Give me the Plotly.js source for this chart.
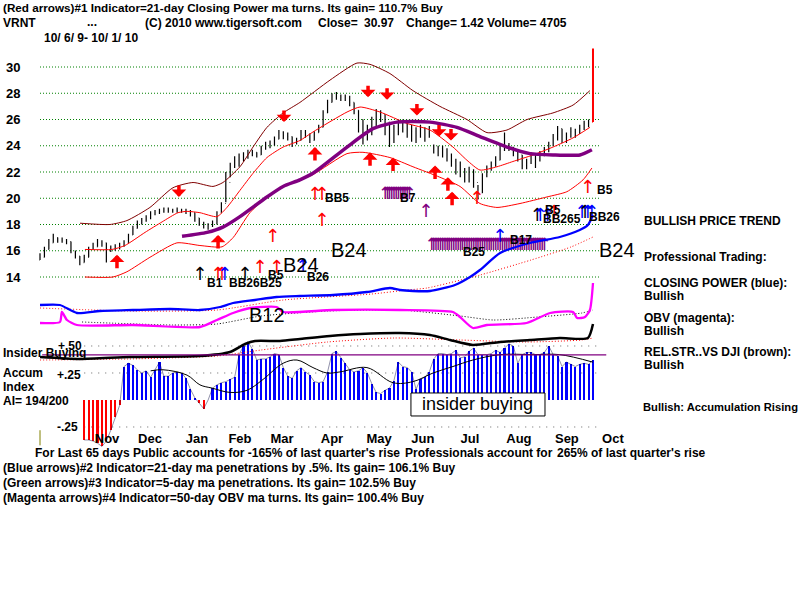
<!DOCTYPE html>
<html><head><meta charset="utf-8">
<script src="https://cdn.plot.ly/plotly-3.0.1.min.js"></script>
<style>body{margin:0;background:#fff}#c{width:800px;height:600px}</style>
</head><body><div id="c"></div>
<script>
// ---------- DATA ----------
const months = ['Nov','Dec','Jan','Feb','Mar','Apr','May','Jun','Jul','Aug','Sep','Oct'];
const monthIdx = [30.3,49.7,71,90.4,109.4,132,153.3,173.1,194.4,216.5,238.2,259];
const priceTicks = [14,16,18,20,22,24,26,28,30];

// price bars (one bar per 2 trading days, index = trading day)
const closeP = [15.5,16.1,16.6,17.0,16.8,16.8,16.7,16.0,15.6,15.1,15.5,16.2,16.3,16.6,16.6,16.1,16.2,16.2,16.4,16.6,
17.2,17.7,18.1,18.3,18.5,18.8,18.9,19.0,19.2,19.1,19.1,19.1,19.1,19.0,18.9,18.5,18.1,18.0,17.9,18.1,
18.9,19.6,21.2,22.4,22.9,23.1,23.2,23.5,23.5,23.3,23.8,24.1,24.1,24.5,25.0,24.8,24.7,24.4,24.4,25.0,
24.9,24.4,25.0,25.4,26.5,27.3,27.7,27.8,27.7,27.7,27.3,26.7,26.0,25.2,25.0,25.6,26.5,26.4,25.8,24.6,
25.1,25.7,25.6,25.2,25.1,24.8,25.2,24.9,25.2,23.9,23.8,23.7,23.3,22.8,22.5,22.2,21.8,22.0,21.2,20.4,
21.7,22.3,22.5,22.9,23.7,24.0,23.9,23.5,23.3,22.5,22.7,23.3,22.9,23.3,23.6,24.0,24.6,25.3,24.6,24.7,
25.1,25.0,25.3,25.7,25.8,30.97];
const highP = [15.8,16.3,16.9,17.3,17.0,17.0,16.9,16.7,16.0,15.6,15.7,16.3,16.6,16.9,16.8,16.6,16.4,16.5,16.6,16.8,
17.3,17.9,18.3,18.5,18.7,19.0,19.1,19.2,19.3,19.3,19.2,19.3,19.2,19.2,19.1,18.9,18.5,18.2,18.1,18.3,
19.0,19.7,22.0,22.7,23.2,23.4,23.5,23.7,23.7,23.5,24.0,24.3,24.4,24.7,25.2,25.1,25.0,24.7,24.6,25.2,
25.2,24.9,25.1,25.6,26.7,27.5,28.0,28.1,27.9,27.9,27.8,27.3,26.7,26.0,25.6,26.2,26.8,26.7,26.4,25.8,
25.6,26.0,26.0,25.8,25.6,25.4,25.6,25.4,25.5,24.1,24.0,24.0,23.8,23.4,23.0,22.8,22.3,22.4,22.2,21.0,
21.9,22.5,22.8,23.2,24.0,25.0,24.2,23.9,23.6,23.3,23.0,23.5,23.4,23.6,23.9,24.3,24.9,25.5,25.3,25.0,
25.4,25.3,25.6,25.9,26.0,31.4];
const lowP = [15.3,15.5,16.1,16.6,16.6,16.6,16.5,15.8,15.4,14.9,15.1,15.5,16.1,16.3,16.3,15.1,15.9,16.0,16.1,16.3,
16.6,17.2,17.7,18.0,18.2,18.4,18.7,18.8,18.9,18.9,18.9,18.9,18.9,18.8,18.6,18.2,17.9,17.7,17.6,17.8,
18.0,18.9,19.7,21.6,22.3,22.4,22.8,23.0,23.2,23.1,23.3,23.7,23.8,24.0,24.5,24.5,24.4,23.9,24.1,24.4,
24.6,24.2,24.4,25.0,25.4,26.5,27.3,27.5,27.4,27.4,27.0,26.4,25.0,24.1,24.4,24.8,25.4,25.8,24.8,23.9,
24.2,24.8,25.0,24.6,24.3,24.2,24.6,24.3,24.6,23.4,23.2,23.1,22.8,22.4,21.8,21.6,21.2,21.2,20.8,19.9,
20.4,21.6,22.1,22.4,22.9,23.6,23.6,23.2,22.8,22.2,22.2,22.6,22.3,22.8,23.2,23.5,24.0,24.4,24.2,24.2,
24.6,24.6,24.9,25.2,25.4,25.8];

// bands and moving average on price (trading-day index, price)
const upOutX = [18.1,31.6,39.3,49.7,60.1,69.2,78.2,82.7,90.4,96.3,102.6,109.9,117.5,131.1,143.3,149.2,158.2,168.6,180.8,193,202.1,211.1,220.2,231.9,241,248.6];
const upOutY = [18.1,18.0,18.3,19.3,20.8,21.2,20.9,21.2,22.4,23.9,25.4,26.5,27.3,29.0,30.3,30.2,29.5,28.2,27.0,26.0,25.0,25.2,26.0,26.5,27.1,28.2];
const upInX = [20.3,32.5,38.4,47.5,55.2,62.4,66.5,72.3,80,84.5,90.4,96.3,102.6,109.9,117.5,123.4,138.8,144.7,153.7,165.9,176.3,186.7,193,198.9,206.6,213.8,222.9,231.9,241,248.6];
const upInY = [16.1,16.1,16.4,17.4,18.2,18.9,19.0,18.9,18.6,19.3,20.6,21.9,23.1,23.9,24.4,25.05,26.57,26.95,26.57,25.7,25.2,23.9,22.9,22.15,22.4,22.8,23.3,23.9,24.6,25.4];
const loBandX = [20.3,33,39.3,49.7,61.9,72.3,82.3,87.3,94.9,102.6,109.9,117.5,123.4,138.8,146,158.2,168.6,180.8,189.9,198.9,206.6,217,229.2,238.2,245.5,249.5];
const loBandY = [14.0,14.0,14.4,15.5,16.6,16.4,16.3,17.0,18.9,20.1,20.9,21.4,21.8,23.4,23.5,23.1,22.4,21.6,20.9,19.6,19.3,19.6,20.1,20.5,21.4,22.3];
const maX = [64.2,75.5,82.7,90.4,102.6,109.9,117.5,123.4,138.8,150.5,161.4,176.3,188.5,198.9,211.1,221.5,231.9,244.1,249.5];
const maY = [17.1,17.4,17.8,18.6,20.1,20.9,21.4,21.9,23.9,25.3,25.8,25.8,25.4,24.7,23.9,23.4,23.3,23.3,23.7];

// indicator lines (arbitrary units)
const cpX = [0,9,16.7,27,42,58.8,72.3,81.4,87.3,97.2,107,117.5,132.5,147.8,158.2,162.7,168.6,176.3,187.6,194.4,198.9,208,221.5,235,244,247.7,250];
const cpV = [14.5,14.5,13.7,13.9,14.0,14.1,14.0,14.3,14.7,15.0,15.3,15.4,15.5,15.8,16.2,16.0,15.9,15.9,16.5,17.3,18.0,19.7,20.7,21.3,22.0,22.5,23.5];
const cpMaX = [0,40,80,110,150,166,175,199,222,240,250];
const cpMaV = [14.2,13.9,14.0,15.0,15.6,16.0,16.2,17.5,19.0,20.3,21.3];
const obvX = [0,9,9.9,12.2,16.7,42,72.3,80,87.3,95,107,109.9,132.5,162.7,186.7,189.9,195.7,202,220,230.6,241,242.8,246.4,248.6,250];
const obvV = [12.7,12.8,13.8,13.0,12.5,12.5,12.3,13.0,13.7,14.2,14.3,13.8,14.0,14.0,13.8,13.3,12.2,12.5,12.7,13.7,13.8,13.2,13.3,14.0,16.7];
const obvMaX = [19,60,80,100,130,163,190,205,225,245,250];
const obvMaV = [12.8,12.5,12.6,13.4,13.9,14.0,13.4,13.0,13.3,13.7,14.0];
const rsX = [0,18,40.7,72.3,85.9,92.7,97.2,108.5,117.5,131.1,144.7,162.7,176.3,185.4,195.7,208,221.5,235,247.7,250];
const rsV = [9.3,9.1,9.3,9.4,9.8,10.6,10.9,10.9,11.1,11.4,11.6,11.7,11.5,11.0,10.5,10.8,11.0,11.2,11.2,12.6];
const rsMaX = [0,40,80,100,130,160,190,220,245,250];
const rsMaV = [9.0,9.1,9.4,10.0,10.8,11.2,11.0,10.8,11.0,11.2];

// accumulation index (every 2 trading days from day 20)
const aiVals = [-0.37,-0.37,-0.38,-0.40,-0.43,-0.38,-0.28,-0.16,-0.05,0.31,0.34,0.32,0.28,0.25,0.27,0.21,0.28,0.35,0.22,0.22,
0.25,0.26,0.25,0.20,0.10,0.02,-0.03,-0.08,0.00,0.11,0.14,0.16,0.17,0.19,0.21,0.42,0.50,0.54,0.47,0.37,
0.38,0.38,0.40,0.43,0.42,0.30,0.22,0.20,0.27,0.30,0.26,0.23,0.17,0.16,0.17,0.26,0.43,0.45,0.39,0.34,
0.28,0.26,0.27,0.30,0.25,0.15,0.07,0.06,0.09,0.11,0.18,0.35,0.31,0.30,0.26,0.10,0.19,0.21,0.26,0.38,
0.43,0.43,0.42,0.43,0.46,0.39,0.40,0.45,0.48,0.42,0.42,0.42,0.43,0.46,0.44,0.48,0.52,0.50,0.34,0.42,
0.44,0.44,0.42,0.42,0.44,0.50,0.42,0.41,0.31,0.35,0.33,0.31,0.33,0.34,0.33,0.37];
const aiMaX = [50,55.6,66.5,72.3,77.8,85.9,93.6,100.8,109.9,116.2,123.4,129.7,135.6,147.8,159.6,168.6,177.7,186.7,195.7,208,222.9,235,250];
const aiMaV = [0.27,0.28,0.23,0.14,0.11,0.07,0.09,0.19,0.34,0.37,0.30,0.25,0.26,0.30,0.16,0.17,0.25,0.31,0.37,0.42,0.42,0.42,0.35];
const aiLevels = [0.5,0.25,-0.25];
const insiderLevel = 0.417;

// signals: thick red arrows (tip day index, tip price)
const sellIdx = [62.8,110.3,148.3,156.9,170.4,180.4,185.8];
const sellP = [20.1,25.8,27.7,27.5,26.3,24.7,24.4];
const buyIdx = [34.8,80.5,124.3,149.2,159.6,178.6,184.4,186.3];
const buyP = [15.7,17.2,23.9,23.5,23.1,22.5,21.6,20.5];
// thin arrows
const thinIdx = [105.3,124.3,127.5,127.5,247.7,197.6,72.3,80.5,82.3,83.6,92.7,99.5,107,118.9,174.5,208,224.8,226.2,229.4,232.5,245.1,246.4,247.7,249.5];
const thinP =   [17.7,20.9,20.9,18.9,21.4,20.6,14.8,14.8,14.8,14.8,14.8,15.3,15.3,15.4,19.6,17.7,19.3,19.3,19.3,19.5,19.5,19.5,19.5,19.5];
const thinCol = ['r','r','r','r','r','r','k','r','r','b','k','r','r','b','m','b','k','b','b','r','b','k','b','b'];
const purpleRuns = [[156,167,20.9],[177,228,17.0]];

// signal labels [text, day index, price, big]
const sigLabels = [['B1',74.6,13.54,0],['BB26B25',84.5,13.54,0],['B5',102.2,14.15,0],['B24',109,14.9,1],['B26',119.8,14.0,0],
['B24',130.7,16.06,1],['B12',93.6,11.1,1],['BB5',127.9,20.0,0],['B7',161.8,20.0,0],['B25',190.3,15.9,0],['B17',211.6,16.8,0],
['B5',250.9,20.6,0],['B5',227.5,19.1,0],['BB265',226.5,18.4,0],['BB26',247.2,18.6,0],['B24',251.8,16.06,1]];

// ---------- PLOT ----------
const L=38,T=40,W=587,H=410;
const PX = p => (p-L)/W, PY = p => (T+H-p)/H;
const FF = 'Liberation Sans, Arial, sans-serif';
const dayIdx = closeP.map((_,i)=>i*2);
const openP = closeP.map((c,i)=> i===0 ? lowP[0] : closeP[i-1]);
const n = closeP.length;

const traces = [];
function line(x,y,color,width,dash,yaxis){traces.push({type:'scatter',mode:'lines',x:x,y:y,yaxis:yaxis||'y',line:{color:color,width:width,dash:dash||'solid',shape:'spline',smoothing:0.6},hoverinfo:'skip'});}
line(upOutX,upOutY,'rgb(128,0,0)',1);
line(upInX,upInY,'rgb(255,0,0)',1);
line(loBandX,loBandY,'rgb(255,0,0)',1);
line(maX,maY,'rgb(128,0,128)',3.5);
traces.push({type:'ohlc',x:dayIdx.slice(0,n-1),open:openP.slice(0,n-1),high:highP.slice(0,n-1),low:lowP.slice(0,n-1),close:closeP.slice(0,n-1),
  increasing:{line:{color:'#000',width:1.2}},decreasing:{line:{color:'#000',width:1.2}},tickwidth:0.28,hoverinfo:'skip'});
traces.push({type:'ohlc',x:dayIdx.slice(n-1),open:openP.slice(n-1),high:highP.slice(n-1),low:lowP.slice(n-1),close:closeP.slice(n-1),
  increasing:{line:{color:'#f00',width:2}},decreasing:{line:{color:'#f00',width:2}},tickwidth:0.25,hoverinfo:'skip'});
line(cpMaX,cpMaV,'rgb(255,0,0)',1,'1px,2px','y3');
line(cpX,cpV,'rgb(0,0,255)',2.3,'solid','y3');
line(obvMaX,obvMaV,'#000',1,'1px,2px','y3');
line(obvX,obvV,'rgb(255,0,255)',2.3,'solid','y3');
line(rsMaX,rsMaV,'rgb(255,0,0)',1,'1px,2px','y3');
line(rsX,rsV,'#000',2.5,'solid','y3');

const aiX = aiVals.map((_,i)=>20+2*i);
traces.push({type:'bar',x:aiX,y:aiVals,yaxis:'y2',width:0.95,marker:{color:aiVals.map(v=>v<0?'rgb(255,0,0)':'rgb(0,0,255)'),line:{width:0}},hoverinfo:'skip'});
traces.push({type:'scatter',mode:'lines',x:aiX,y:aiVals,yaxis:'y2',line:{color:'rgba(0,0,60,0.55)',width:0.8},hoverinfo:'skip'});
traces.push({type:'scatter',mode:'lines',x:aiMaX,y:aiMaV,yaxis:'y2',line:{color:'#000',width:1,shape:'spline'},hoverinfo:'skip'});

// thin arrows as glyphs
const colMap = {r:'rgb(255,0,0)',k:'#000',b:'rgb(0,0,255)',m:'rgb(128,0,128)'};
const pX=[],pY=[];
purpleRuns.forEach(r=>{for(let d=r[0];d<=r[1];d++){pX.push(d);pY.push(r[2]);}});
traces.push({type:'scatter',mode:'text',x:pX,y:pY,text:pX.map(()=> '↑'),textposition:'bottom center',cliponaxis:false,
  textfont:{family:'DejaVu Sans',size:17,color:'rgb(128,0,128)'},hoverinfo:'skip'});
traces.push({type:'scatter',mode:'text',x:thinIdx,y:thinP,text:thinIdx.map(()=> '↑'),textposition:'bottom center',cliponaxis:false,
  textfont:{family:'DejaVu Sans',size:18,color:thinCol.map(c=>colMap[c])},hoverinfo:'skip'});

// shapes
const shapes = [];
priceTicks.forEach(v=>shapes.push({type:'line',xref:'x',yref:'y',x0:0,x1:253,y0:v,y1:v,layer:'below',line:{color:'rgb(0,128,0)',width:1,dash:'1px,2px'}}));
aiLevels.forEach(v=>shapes.push({type:'line',xref:'x',yref:'y2',x0:20,x1:253,y0:v,y1:v,layer:'below',line:{color:'rgb(100,100,100)',width:1,dash:'1px,6px'}}));
shapes.push({type:'line',xref:'x',yref:'y2',x0:1,x1:256,y0:insiderLevel,y1:insiderLevel,line:{color:'rgb(128,0,128)',width:1.2}});
shapes.push({type:'line',xref:'x',yref:'y2',x0:0,x1:0,y0:-0.28,y1:-0.42,line:{color:'rgb(128,128,0)',width:1}});
shapes.push({type:'rect',xref:'x',yref:'y2',x0:167.7,x1:228.3,y0:-0.148,y1:0.065,fillcolor:'#fff',line:{color:'#000',width:1},layer:'above'});

// annotations
const ann = [];
function txt(s,x,y,o){o=o||{};ann.push({text:s,xref:'paper',yref:'paper',x:PX(x),y:PY(y),xanchor:'left',yanchor:'middle',showarrow:false,
  font:{family:FF,size:o.size||12,color:o.color||'#000',weight:o.w===undefined?'bold':o.w}});}
txt('(Red arrows)#1 Indicator=21-day Closing Power ma turns. Its gain= 110.7% Buy',1,8,{size:11.7});
txt('VRNT',1,23); txt('...',85,22); txt('(C) 2010 www.tigersoft.com',143,23);
txt('Close=',316,23); txt('30.97',362,23); txt('Change= 1.42 Volume= 4705',404,23);
txt('10/ 6/ 9- 10/ 1/ 10',42,38);
txt("For Last 65 days Public accounts for -165% of last quarter's rise",33,453);
txt('Professionals account for',403,453); txt("265% of last quarter's rise",555,453);
txt('(Blue arrows)#2 Indicator=21-day ma penetrations by .5%. Its gain= 106.1% Buy',1,468);
txt('(Green arrows)#3 Indicator=5-day ma penetrations. Its gain= 102.5% Buy',1,483);
txt('(Magenta arrows)#4 Indicator=50-day OBV ma turns. Its gain= 100.4% Buy',1,498);
txt('Insider Buying',1,353); txt('+.50',56,346); txt('Accum',1,373); txt('Index',1,387); txt('AI= 194/200',1,401);
txt('+.25',55,375); txt('-.25',55,427);
txt('BULLISH PRICE TREND',642,221); txt('Professional Trading:',642,257);
txt('CLOSING POWER (blue):',642,283); txt('Bullish',642,296);
txt('OBV (magenta):',642,318); txt('Bullish',642,331);
txt('REL.STR..VS DJI (brown):',642,352); txt('Bullish',642,365);
txt('Bullish: Accumulation Rising',641,407,{size:11.2});
ann.push({text:'insider buying',xref:'x',yref:'y2',x:198,y:-0.04,showarrow:false,font:{family:FF,size:18,color:'#000'}});
sigLabels.forEach(s=>ann.push({text:s[0],xref:'x',yref:'y',x:s[1],y:s[2],xanchor:'left',yanchor:'middle',showarrow:false,
  font:{family:FF,size:s[3]?20:12,color:'#000',weight:s[3]?'normal':'bold'}}));
sellIdx.forEach((d,i)=>ann.push({x:d,y:sellP[i],xref:'x',yref:'y',ax:0,ay:-13,text:'',showarrow:true,arrowhead:1,arrowsize:0.7,arrowwidth:3.5,arrowcolor:'rgb(255,0,0)'}));
buyIdx.forEach((d,i)=>ann.push({x:d,y:buyP[i],xref:'x',yref:'y',ax:0,ay:15,text:'',showarrow:true,arrowhead:1,arrowsize:0.7,arrowwidth:3.5,arrowcolor:'rgb(255,0,0)'}));

const layout = {
  width:800,height:600,margin:{l:L,r:800-L-W,t:T,b:600-T-H},
  paper_bgcolor:'#fff',plot_bgcolor:'rgba(0,0,0,0)',showlegend:false,hovermode:false,bargap:0,
  font:{family:FF,color:'#000'},
  xaxis:{range:[-0.904,264.47],showgrid:false,zeroline:false,showline:false,tickvals:monthIdx,ticktext:months,ticks:'',
    anchor:'free',position:0.052,rangeslider:{visible:false},tickfont:{family:FF,size:13,weight:'bold',color:'#000'},fixedrange:true},
  yaxis:{range:[0.819,32.057],showgrid:false,zeroline:false,showline:false,tickvals:priceTicks,ticks:'outside',ticklen:14,
    tickcolor:'rgba(0,0,0,0)',tickfont:{family:FF,size:13,weight:'bold',color:'#000'},fixedrange:true},
  yaxis2:{overlaying:'y',range:[-0.463,3.333],visible:false,fixedrange:true},
  yaxis3:{overlaying:'y',range:[0,41],visible:false,fixedrange:true},
  shapes:shapes,annotations:ann
};
Plotly.newPlot('c',traces,layout,{staticPlot:true,displayModeBar:false});
</script></body></html>
